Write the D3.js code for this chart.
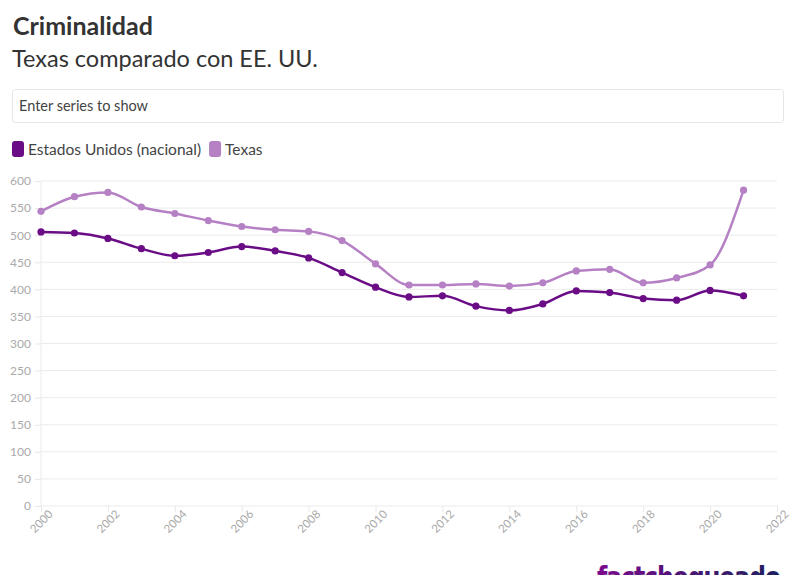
<!DOCTYPE html>
<html><head><meta charset="utf-8">
<script src="https://cdn.jsdelivr.net/npm/d3@7"></script>
<style>
body{margin:0;background:#fff;font-family:"Source Sans Pro","Lato","Open Sans",sans-serif;overflow:hidden}
svg{display:block}
</style></head>
<body>
<svg id="c" width="796" height="575"></svg>
<script>
const years = [2000,2001,2002,2003,2004,2005,2006,2007,2008,2009,2010,2011,2012,2013,2014,2015,2016,2017,2018,2019,2020,2021];
const usValues = [506,504,494,475,462,468,479,471,458,431,404,386,388,369,361,373,397,394,383,380,398,388];
const texasValues = [544,571,579,552,540,527,516,510,507,490,447,408,408,410,406,412,434,437,412,421,445,583];
const seriesNames = ["Estados Unidos (nacional)","Texas"];
const seriesColors = ["#6b0c87","#b581c4"];
const yTicks = [0,50,100,150,200,250,300,350,400,450,500,550,600];
const xTicks = [2000,2002,2004,2006,2008,2010,2012,2014,2016,2018,2020,2022];

const svg = d3.select("#c");
const F = "Lato, 'Open Sans', sans-serif";

svg.append("text").attr("x",13).attr("y",35).attr("font-family",F).attr("font-weight",700)
  .attr("font-size",25).attr("fill","#333").text("Criminalidad");
svg.append("text").attr("x",12).attr("y",67).attr("font-family",F).attr("font-weight",400)
  .attr("font-size",23.5).attr("fill","#333").text("Texas comparado con EE. UU.");

// input box
svg.append("rect").attr("x",12.5).attr("y",89.5).attr("width",771).attr("height",33)
  .attr("rx",3).attr("fill","#fff").attr("stroke","#e6e6e6");
svg.append("text").attr("x",19).attr("y",111).attr("font-family",F).attr("font-size",14.5)
  .attr("fill","#444").text("Enter series to show");

// legend
let lx = 12;
seriesNames.forEach((n,i)=>{
  svg.append("rect").attr("x",lx).attr("y",141).attr("width",12).attr("height",16).attr("rx",3)
    .attr("fill",seriesColors[i]);
  const t = svg.append("text").attr("x",lx+16).attr("y",155).attr("font-family",F)
    .attr("font-size",15.5).attr("fill","#444").text(n);
  lx += 16 + t.node().getComputedTextLength() + 8;
});

const x = d3.scaleLinear().domain([2000,2022]).range([41,777]);
const y = d3.scaleLinear().domain([0,600]).range([506,181]);

const gy = svg.append("g").attr("transform","translate(41,0)")
  .call(d3.axisLeft(y).tickValues(yTicks).tickSize(6).tickPadding(4));
gy.select(".domain").remove();
gy.selectAll(".tick line").attr("stroke","#e8e8e8");
gy.selectAll(".tick text").attr("fill","#aaa").attr("font-family",F).attr("font-size",12);

// grid
svg.append("g").selectAll("line").data(yTicks).join("line")
  .attr("x1",41).attr("x2",777).attr("y1",d=>y(d)).attr("y2",d=>y(d))
  .attr("stroke","#ebebeb").attr("stroke-width",1);
svg.append("line").attr("x1",41).attr("x2",41).attr("y1",181).attr("y2",506).attr("stroke","#ebebeb");

const gx = svg.append("g").attr("transform","translate(0,506)")
  .call(d3.axisBottom(x).tickValues(xTicks).tickFormat(d3.format("d")).tickSize(6).tickPadding(3));
gx.select(".domain").remove();
gx.selectAll(".tick line").attr("stroke","#e8e8e8");
gx.selectAll(".tick text").attr("fill","#aaa").attr("font-family",F).attr("font-size",11.5)
  .attr("text-anchor","end").attr("dy","0.5em").attr("dx","0.2em")
  .attr("transform","rotate(-45)");

const data = [usValues, texasValues];
const line = d3.line().x((d,i)=>x(years[i])).y(d=>y(d)).curve(d3.curveMonotoneX);
[1,0].forEach(si=>{
  const g = svg.append("g");
  g.append("path").attr("d",line(data[si])).attr("fill","none")
    .attr("stroke",seriesColors[si]).attr("stroke-width",2.5);
  g.selectAll("circle").data(data[si]).join("circle")
    .attr("cx",(d,i)=>x(years[i])).attr("cy",d=>y(d)).attr("r",3.6)
    .attr("fill",seriesColors[si]);
});

// logo
const defs = svg.append("defs");
const gr = defs.append("linearGradient").attr("id","lg").attr("x1","0").attr("x2","1");
gr.append("stop").attr("offset","0").attr("stop-color","#7a0a8c");
gr.append("stop").attr("offset","1").attr("stop-color","#1c1f5e");
svg.append("text").attr("x",597).attr("y",588).attr("font-family","'DejaVu Sans', sans-serif")
  .attr("font-weight",700).attr("font-size",30).attr("letter-spacing",-1.5)
  .attr("textLength",183).attr("lengthAdjust","spacingAndGlyphs")
  .attr("fill","url(#lg)").text("factchequeado");
</script>
</body></html>
